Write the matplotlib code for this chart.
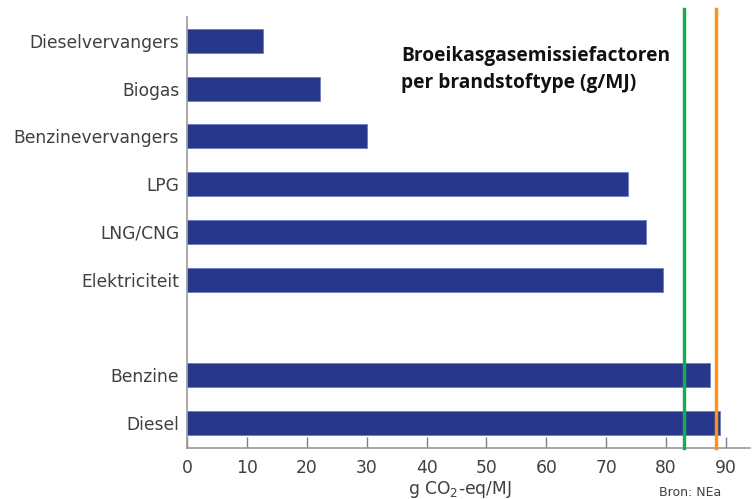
import matplotlib
matplotlib.use("Agg")
import matplotlib.pyplot as plt

plt.rcParams["font.family"] = ["DejaVu Sans"]

categories = ["Diesel", "Benzine", "", "Elektriciteit", "LNG/CNG", "LPG",
              "Benzinevervangers", "Biogas", "Dieselvervangers"]
values = [89.0, 87.4, None, 79.6, 76.6, 73.6, 30.1, 22.2, 12.6]
green_line = 83.1
orange_line = 88.3
xticks = [0, 10, 20, 30, 40, 50, 60, 70, 80, 90]

fig = plt.figure(figsize=(7.52, 4.99), dpi=100)
ax = fig.add_axes([0.2493, 0.1028, 0.9968 - 0.2493, 0.966 - 0.1028])

pos = [i for i, v in enumerate(values) if v is not None]
vals = [v for v in values if v is not None]
ax.barh(pos, vals, height=0.5, color="#27388c", edgecolor="#6f7cc0", linewidth=0.6, zorder=2)

ax.set_xlim(0, 94)
ax.set_ylim(-0.52, 8.5)
ax.set_yticks(range(len(categories)))
ax.set_yticklabels(categories, fontsize=12.3, color="#404040")
ax.tick_params(axis="y", length=0, pad=6)
ax.set_xticks(xticks)
ax.tick_params(axis="x", direction="in", length=8, width=1, color="#808080",
               labelsize=12.3, labelcolor="#404040", pad=8)

for s in ["top", "right"]:
    ax.spines[s].set_visible(False)
for s in ["left", "bottom"]:
    ax.spines[s].set_color("#9a9a9a")
    ax.spines[s].set_linewidth(1.2)

ax.plot([green_line, green_line], [-0.52, 8.67], color="#1aaa55", lw=2.5, clip_on=False, zorder=3)
ax.plot([orange_line, orange_line], [-0.52, 8.67], color="#f7941d", lw=2.5, clip_on=False, zorder=3)

fig.text(401 / 752, 1 - 46 / 499, "Broeikasgasemissiefactoren\nper brandstoftype (g/MJ)",
         fontsize=13.8, fontweight="bold", family="Open Sans", color="#111111",
         ha="left", va="top", linespacing=1.45)

fig.text(460 / 752, 1 - 489 / 499, "g CO$_2$-eq/MJ", fontsize=12.3, color="#404040",
         ha="center", va="center")
fig.text(690 / 752, 1 - 492 / 499, "Bron: NEa", fontsize=9, color="#404040",
         ha="center", va="center")

fig.savefig("out.png", dpi=100)
